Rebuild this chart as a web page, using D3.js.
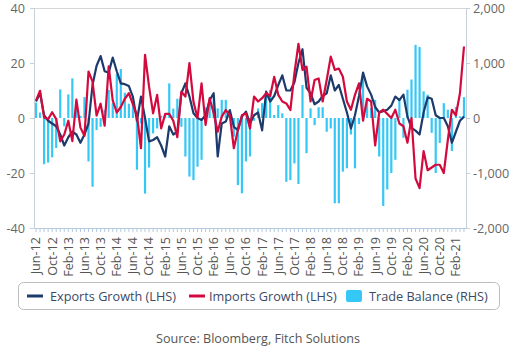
<!DOCTYPE html>
<html>
<head>
<meta charset="utf-8">
<script src="https://cdn.jsdelivr.net/npm/d3@7"></script>
<style>
  body { margin: 0; background: #fff; }
  svg { font-family: "Open Sans", sans-serif; }
</style>
</head>
<body>
<div id="chart"></div>
<script>
// monthly values, Jun-12 .. Apr-21
const exportsGrowth = [
  6, 9, 1, -1, -2, -3, -6, -10, -7, -5, -6, -9, -6, -2, 12, 19, 22.5, 17, 16.5, 22,
  17, 12.6, 12.3, 11.6, 7.7, -1, 7.8, 0, -8.5, -8, -7, -10, -14, -3, -6, -5, 9, 12.6, 7.8, 1.7,
  0, -0.7, 1, 6.5, 9, -14, -2, -1.3, 2.9, -3.2, -4.4, 0.5, 2.3, -2, 1, 2, -4.5, 9.6, 6, 8,
  12, 15.5, 10, 10, 13, 20, 25, 11, 9, 5, 6, 8, 9, 15.5, 10, 12, 7, 2, -3.8, 1,
  8, 16.5, 11.5, 8.5, 4, 2, 2.5, 3, 4.5, 7.8, 6.5, 8.5, 0.5, -3.6, -4.6, -6, 2, 7.5, 7, 1,
  0, 0, -3, -9, -5, -1, 0.5
];
const importsGrowth = [
  6.4, 9.9, 0.2, -0.4, 2.1, -0.4, -8.5, -6, -1, -8.4, 6.7, -3.5, -6.5, 16.9, 13.2, 0.9, 5.2, -2.8, 18.8, 6.4,
  2, 4, 7, 9, 5, 1, -11, 23, 11.4, 1.7, 8.4, -3.8, 1.5, 1.5, -1, -7, 9.6, 7.8, 20, 5.9,
  0, 12.6, -2.5, 7.2, 1.7, -5, 0.5, 2.9, 1, -11, -4.4, 1, 1.7, -3.8, 7.8, 6, 7.2, 9, 8, 15,
  8.4, 6, 5.3, 2.9, 16.2, 27, 17.5, 18.7, 6, 13.8, 14.4, 6, 13.8, 22.3, 17.5, 18, 15, 6, 3, 8.4,
  12.6, -1, 7, 6, -10, 2, 3, 1.5, 0, 3, -2, -3, -9, 0, -22, -25.5, -12, -19, -18, -17,
  -17, -20, -8, 3, 1, 9, 26
];
const tradeBalance = [
  280, 100, -840, -810, -715, -545, 520, -150, 430, 720, 200, 40, 380, -790, -1250, -220, -160, 150, 510, 270,
  800, 890, 460, 260, 250, -940, -100, -1375, -900, -280, -190, 40, 60, 630, 170, 350, -160, -700, -1065, -1130,
  -885, -760, 195, 250, 360, 175, 330, 330, 85, -340, -1220, -1370, -790, -700, -50, 175, 270, 420, 510, 55,
  235, 85, -1160, -1130, -825, -1200, 600, -640, 175, -130, 195, 195, -250, -190, -1550, -1550, -975, -915, -300, -915,
  -110, 820, 360, 180, 330, -700, -1600, -1300, -1000, -760, 360, -360, 515, 700, 1330, 1290, 485, 425, -270, -1000,
  -455, 270, 150, -600, 200, 30, 380
];
const tickLabels = [
  "Jun-12", "Oct-12", "Feb-13", "Jun-13", "Oct-13", "Feb-14", "Jun-14", "Oct-14", "Feb-15",
  "Jun-15", "Oct-15", "Feb-16", "Jun-16", "Oct-16", "Feb-17", "Jun-17", "Oct-17", "Feb-18",
  "Jun-18", "Oct-18", "Feb-19", "Jun-19", "Oct-19", "Feb-20", "Jun-20", "Oct-20", "Feb-21"
];
const leftTicks = [40, 20, 0, -20, -40];
const rightTicks = [2000, 1000, 0, -1000, -2000];
const legendLabels = ["Exports Growth (LHS)", "Imports Growth (LHS)", "Trade Balance (RHS)"];

const months = d3.timeMonth.range(new Date(2012, 5, 1), new Date(2021, 4, 1));
const categories = months.map(d3.timeFormat("%b-%y"));

const navy = "#1d3a6c", red = "#d20a3e", cyan = "#35c8f6";

function plot() {
    var margin = { top: 8, right: 52, bottom: 122, left: 34 },
        width = 518 - margin.left - margin.right,
        height = 350 - margin.top - margin.bottom;

    var svg = d3.select('#chart').append('svg')
        .attr('width', 518)
        .attr('height', 350);
    var g = svg.append('g')
        .attr('transform', `translate(${margin.left},${margin.top})`);

    var x = d3.scaleBand()
                .domain(categories)
                .range([0, width]);
    var yL = d3.scaleLinear()
                .domain([-40, 40])
                .range([height, 0]);
    var yR = d3.scaleLinear()
                .domain([-2000, 2000])
                .range([height, 0]);
    var num = d => d3.format(",")(d).replace("\u2212", "-");
    var cx = c => x(c) + x.bandwidth() / 2;

    // top frame line
    g.append('line')
        .attr('x1', 0).attr('x2', width)
        .attr('y1', 0.5).attr('y2', 0.5)
        .attr('stroke', '#d6d6d6');

    // trade balance bars
    g.append('g').selectAll('rect')
        .data(tradeBalance)
        .join('rect')
        .attr('x', (d, i) => cx(categories[i]) - 1.1)
        .attr('width', 2.2)
        .attr('y', d => yR(Math.max(0, d)))
        .attr('height', d => Math.abs(yR(d) - yR(0)))
        .attr('fill', cyan);

    var line = d3.line()
                .x((d, i) => cx(categories[i]))
                .y(d => yL(d));

    g.append('path')
        .attr('fill', 'none')
        .attr('stroke', navy)
        .attr('stroke-width', 2.2)
        .attr('stroke-linejoin', 'round')
        .attr('d', line(exportsGrowth));

    g.append('path')
        .attr('fill', 'none')
        .attr('stroke', red)
        .attr('stroke-width', 2.2)
        .attr('stroke-linejoin', 'round')
        .attr('d', line(importsGrowth));

    // axes
    var left = g.append('g')
        .call(d3.axisLeft(yL).tickValues(leftTicks).tickFormat(num).tickSize(4).tickPadding(5));
    var right = g.append('g')
        .attr('transform', `translate(${width},0)`)
        .call(d3.axisRight(yR).tickValues(rightTicks).tickFormat(num).tickSize(4).tickPadding(3));
    [left, right].forEach(a => {
        a.selectAll('path, line').attr('stroke', '#c9cfd6');
        a.selectAll('text').attr('fill', '#666').style('font-size', '12.6px')
            .style('font-family', '"Open Sans", sans-serif');
    });

    var bottom = g.append('g')
        .attr('transform', `translate(0,${height})`)
        .call(d3.axisBottom(x).tickSize(4).tickSizeOuter(0)
            .tickFormat(c => tickLabels.includes(c) ? c : ''));
    bottom.selectAll('path, line').attr('stroke', '#b5cbe0');
    bottom.selectAll('text')
        .attr('transform', 'rotate(-90)')
        .attr('text-anchor', 'end')
        .attr('x', -9).attr('y', 0).attr('dy', '0.35em')
        .attr('fill', '#555')
        .style('font-size', '12.6px')
        .style('font-family', '"Open Sans", sans-serif');

    // legend
    var lg = svg.append('g');
    lg.append('rect')
        .attr('x', 18.5).attr('y', 282.5)
        .attr('width', 481).attr('height', 27)
        .attr('rx', 5)
        .attr('fill', 'none').attr('stroke', '#bdbdbd');
    var items = [
        { t: legendLabels[0], c: navy, sx: 27, tx: 50, kind: 'line' },
        { t: legendLabels[1], c: red, sx: 189, tx: 209, kind: 'line' },
        { t: legendLabels[2], c: cyan, sx: 346, tx: 369, kind: 'box' }
    ];
    items.forEach(it => {
        if (it.kind === 'line') {
            lg.append('line')
                .attr('x1', it.sx).attr('x2', it.sx + 16)
                .attr('y1', 296).attr('y2', 296)
                .attr('stroke', it.c).attr('stroke-width', 3);
        } else {
            lg.append('rect')
                .attr('x', it.sx).attr('y', 290)
                .attr('width', 16).attr('height', 12)
                .attr('rx', 2).attr('fill', it.c);
        }
        lg.append('text')
            .attr('x', it.tx).attr('y', 300.5)
            .attr('fill', '#3a4a66')
            .style('font-size', '12.7px')
            .text(it.t);
    });

    svg.append('text')
        .attr('x', 258).attr('y', 343)
        .attr('text-anchor', 'middle')
        .attr('fill', '#555')
        .style('font-size', '12.6px')
        .text('Source: Bloomberg, Fitch Solutions');
}

plot();
</script>
</body>
</html>
